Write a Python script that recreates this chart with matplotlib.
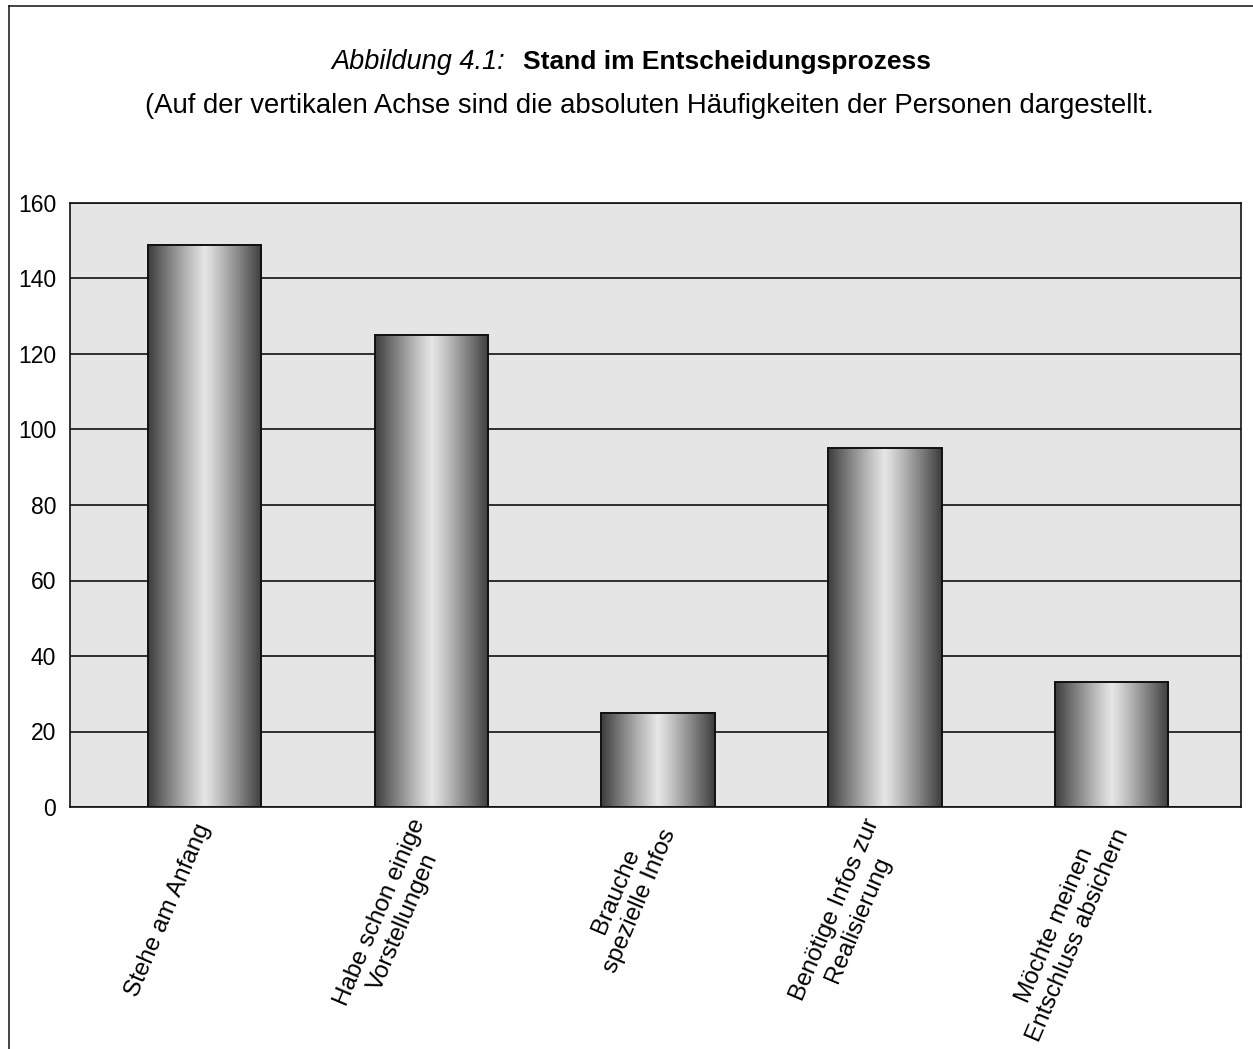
import numpy as np
import matplotlib.pyplot as plt
from matplotlib.lines import Line2D

# data
categories = [
    'Stehe am Anfang',
    'Habe schon einige\nVorstellungen',
    'Brauche\nspezielle Infos',
    'Benötige Infos zur\nRealisierung',
    'Möchte meinen\nEntschluss absichern',
]
counts = [149, 125, 25, 95, 33]
yticks = [0, 20, 40, 60, 80, 100, 120, 140, 160]

plt.rcParams['font.family'] = ['Liberation Sans', 'DejaVu Sans']

W, H = 1253, 1049
fig = plt.figure(figsize=(W / 100, H / 100), dpi=100)
ax = fig.add_axes([70 / W, 1 - 807 / H, (1241 - 70) / W, (807 - 203) / H])
ax.set_facecolor('#e5e5e5')

x = np.arange(len(categories))
bar_w = 0.5
bars = ax.bar(x, counts, width=bar_w, color='none', edgecolor='#111111',
              linewidth=1.4, zorder=4)

# cylinder-like shading inside each bar
t = np.linspace(0, 1, 256)
shade = 0.24 + 0.66 * (1 - np.abs(2 * t - 1) ** 1.1)
grad = shade[np.newaxis, :]
for b in bars:
    x0 = b.get_x()
    ax.imshow(grad, extent=[x0, x0 + b.get_width(), 0, b.get_height()],
              cmap='gray', vmin=0, vmax=1, aspect='auto', zorder=3,
              interpolation='bilinear')

ax.set_xlim(-0.593, 4.57)
ax.set_ylim(0, 160)
ax.set_yticks(yticks)
ax.set_yticklabels([str(v) for v in yticks], fontsize=16.5)
ax.yaxis.grid(True, color='#222222', linewidth=1.3, zorder=1)
ax.set_axisbelow(True)
ax.tick_params(axis='y', length=0, pad=10)
ax.tick_params(axis='x', length=0, pad=13)
ax.set_xticks(x)
ax.set_xticklabels(categories, fontsize=17.5, rotation=67, ha='right',
                   va='center', rotation_mode='anchor', multialignment='center')
for s in ax.spines.values():
    s.set_color('#111111')
    s.set_linewidth(1.2)

# titles
fig.text(505 / W, 1 - 69 / H, 'Abbildung 4.1:', ha='right', va='baseline',
         fontsize=19.5, style='italic')
fig.text(523 / W, 1 - 69 / H, 'Stand im Entscheidungsprozess', ha='left',
         va='baseline', fontsize=19, fontweight='bold')
fig.text(649 / W, 1 - 113 / H,
         '(Auf der vertikalen Achse sind die absoluten Häufigkeiten der Personen dargestellt.',
         ha='center', va='baseline', fontsize=19.8)

# outer frame (only left and top edges fall inside the picture)
fig.add_artist(Line2D([9 / W, 9 / W], [0, 1 - 6 / H], color='#111111', linewidth=1.1))
fig.add_artist(Line2D([9 / W, 1], [1 - 6 / H, 1 - 6 / H], color='#111111', linewidth=1.1))

fig.savefig('out.png', dpi=100)
